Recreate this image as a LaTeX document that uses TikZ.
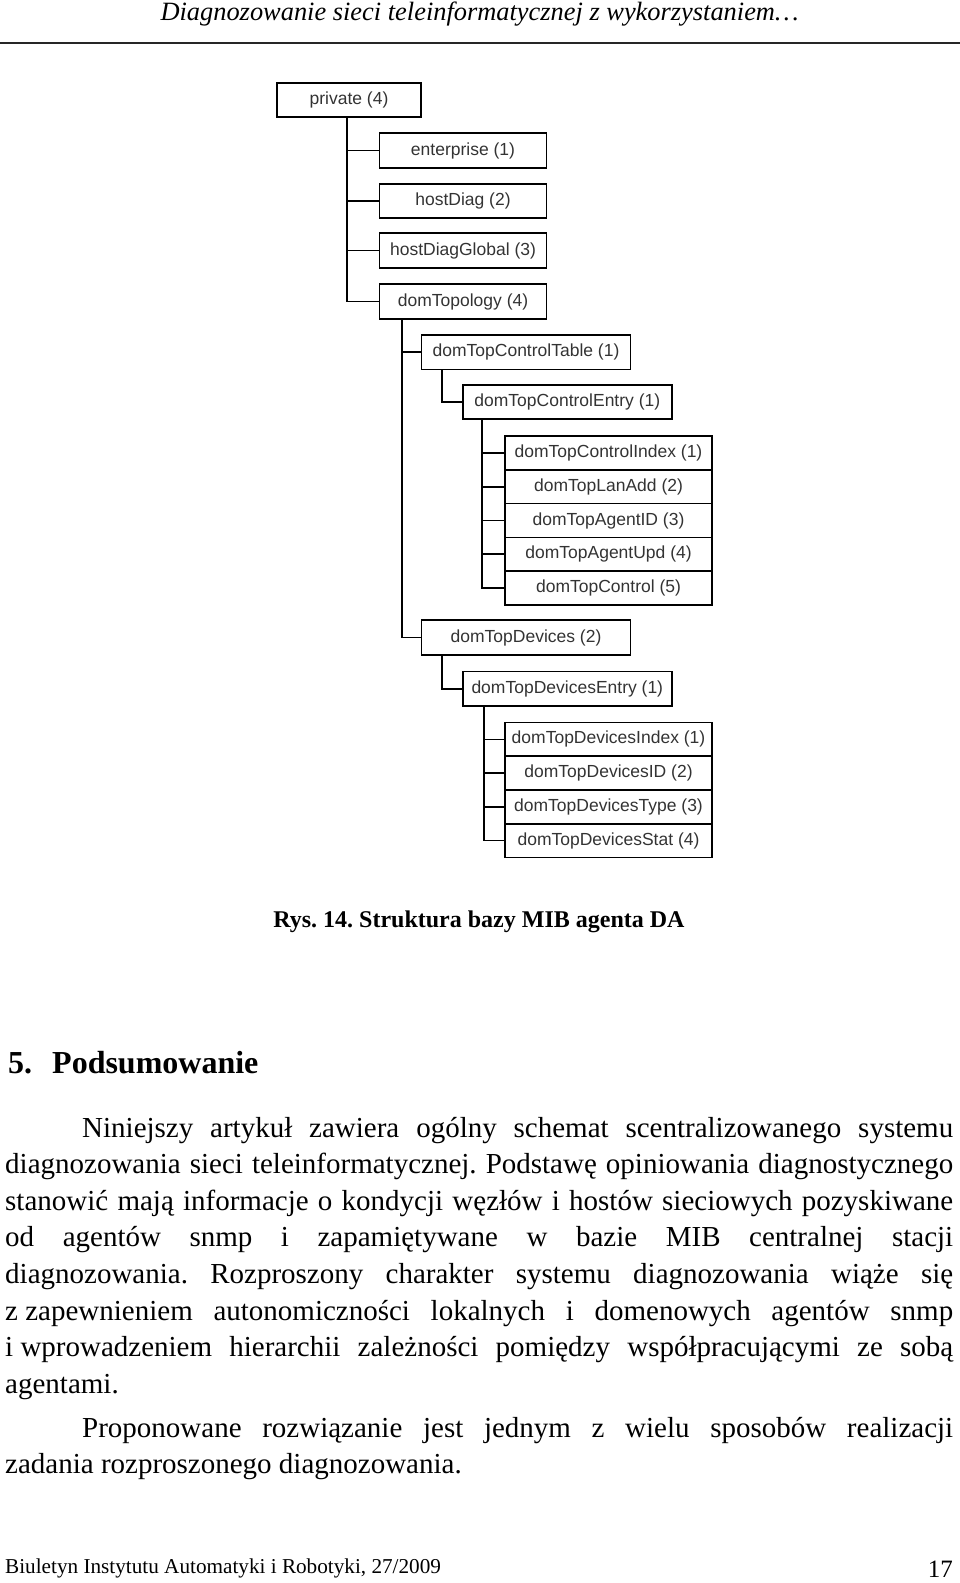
\documentclass[tikz,border=0pt]{standalone}
\usepackage{fontspec}
\setmainfont{Liberation Serif}
\newfontfamily\mibfam{Liberation Sans}
\usetikzlibrary{calc}
\frenchspacing
\newcommand\mibfont{\mibfam\fontsize{17.5pt}{20pt}\selectfont}
\newcommand\bodyfont{\fontsize{29pt}{34pt}\selectfont}
\tikzset{
  mib/.style={draw, line width=1.7pt, inner sep=0pt, font=\mibfont, text=black!80},
  boxA/.style={mib, minimum width=144pt, minimum height=34pt},
  boxB/.style={mib, minimum width=167pt, minimum height=34.5pt},
  boxC/.style={mib, minimum width=209pt, minimum height=34.5pt},
  boxR/.style={mib, minimum width=207pt, minimum height=33.8pt},
  conn/.style={line width=1.7pt},
  bodyline/.style={anchor=base west, inner sep=0pt, font=\bodyfont},
}
\begin{document}
\begin{tikzpicture}[x=1pt,y=-1pt]
\frenchspacing
\useasboundingbox (0,0) rectangle (960,1583);
% header
\node[anchor=base, inner sep=0pt, font=\itshape\fontsize{26.4pt}{30pt}\selectfont] (hdr) at (479.5,20) {Diagnozowanie sieci teleinformatycznej z wykorzystaniem…};
\coordinate (rl) at (0,42.5);
\coordinate (rr) at (960,42.5);
\draw[line width=2pt, black!85] (rl) -- (rr);
% tree
\node[boxA] (priv) at (349,100) {private (4)};
\node[boxB] (ent) at (463,150.5) {enterprise (1)};
\node[boxB] (hd) at (463,201) {hostDiag (2)};
\node[boxB] (hdg) at (463,250.5) {hostDiagGlobal (3)};
\node[boxB] (topo) at (463,301.5) {domTopology (4)};
\node[boxC] (ctab) at (526,352.3) {domTopControlTable (1)};
\node[boxC] (cent) at (567.3,402) {domTopControlEntry (1)};
\node[boxR] (c1) at (608.5,452.9) {domTopControlIndex (1)};
\node[boxR] (c2) at (608.5,486.7) {domTopLanAdd (2)};
\node[boxR] (c3) at (608.5,520.5) {domTopAgentID (3)};
\node[boxR] (c4) at (608.5,554.3) {domTopAgentUpd (4)};
\node[boxR] (c5) at (608.5,588.1) {domTopControl (5)};
\node[boxC] (dev) at (526,637.5) {domTopDevices (2)};
\node[boxC] (dent) at (567.3,688.8) {domTopDevicesEntry (1)};
\node[boxR] (d1) at (608.5,739.4) {domTopDevicesIndex (1)};
\node[boxR] (d2) at (608.5,773.1) {domTopDevicesID (2)};
\node[boxR] (d3) at (608.5,806.9) {domTopDevicesType (3)};
\node[boxR] (d4) at (608.5,840.6) {domTopDevicesStat (4)};
% connectors
\coordinate (t0) at ($(priv.south)+(-2,0)$);
\foreach \n in {ent,hd,hdg,topo} \draw[conn] (t0) |- (\n.west);
\coordinate (t1) at ($(topo.south west)+(23,0)$);
\foreach \n in {ctab,dev} \draw[conn] (t1) |- (\n.west);
\coordinate (t2) at ($(ctab.south west)+(21,0)$);
\draw[conn] (t2) |- (cent.west);
\coordinate (t3) at ($(cent.south west)+(20,0)$);
\foreach \n in {c1,c2,c3,c4,c5} \draw[conn] (t3) |- (\n.west);
\coordinate (t4) at ($(dev.south west)+(21.5,0)$);
\draw[conn] (t4) |- (dent.west);
\coordinate (t5) at ($(dent.south west)+(22,0)$);
\foreach \n in {d1,d2,d3,d4} \draw[conn] (t5) |- (\n.west);
% caption
\node[anchor=base, inner sep=0pt, font=\bfseries\fontsize{24pt}{28pt}\selectfont] (cap) at (479,927) {Rys. 14. Struktura bazy MIB agenta DA};
% heading
\node[anchor=base west, inner sep=0pt, font=\bfseries\fontsize{32pt}{36pt}\selectfont] (h5) at (8,1073) {5.};
\node[anchor=base west, inner sep=0pt, font=\bfseries\fontsize{32pt}{36pt}\selectfont] (hp) at (52,1073) {Podsumowanie};
% body
\node[bodyline] (l1) at (82,1137) {\makebox[871pt][s]{Niniejszy artykuł zawiera ogólny schemat scentralizowanego systemu}};
\node[bodyline] (l2) at (5,1173.6) {\makebox[948pt][s]{diagnozowania sieci teleinformatycznej. Podstawę opiniowania diagnostycznego}};
\node[bodyline] (l3) at (5,1210.2) {\makebox[948pt][s]{stanowić mają informacje o kondycji węzłów i hostów sieciowych pozyskiwane}};
\node[bodyline] (l4) at (5,1246.8) {\makebox[948pt][s]{od agentów snmp i zapamiętywane w bazie MIB centralnej stacji}};
\node[bodyline] (l5) at (5,1283.4) {\makebox[948pt][s]{diagnozowania. Rozproszony charakter systemu diagnozowania wiąże się}};
\node[bodyline] (l6) at (5,1320) {\makebox[948pt][s]{z\kern0.25em zapewnieniem autonomiczności lokalnych i domenowych agentów snmp}};
\node[bodyline] (l7) at (5,1356.6) {\makebox[948pt][s]{i\kern0.25em wprowadzeniem hierarchii zależności pomiędzy współpracującymi ze sobą}};
\node[bodyline] (l8) at (5,1393.2) {agentami.};
\node[bodyline] (l9) at (82,1437) {\makebox[871pt][s]{Proponowane rozwiązanie jest jednym z wielu sposobów realizacji}};
\node[bodyline] (l10) at (5,1473.5) {zadania rozproszonego diagnozowania.};
% footer
\node[anchor=base west, inner sep=0pt, font=\fontsize{21.2pt}{25pt}\selectfont] (ft) at (5,1573) {Biuletyn Instytutu Automatyki i Robotyki, 27/2009};
\node[anchor=base east, inner sep=0pt, font=\fontsize{25pt}{28pt}\selectfont] (pg) at (953,1577) {17};
\end{tikzpicture}
\end{document}
